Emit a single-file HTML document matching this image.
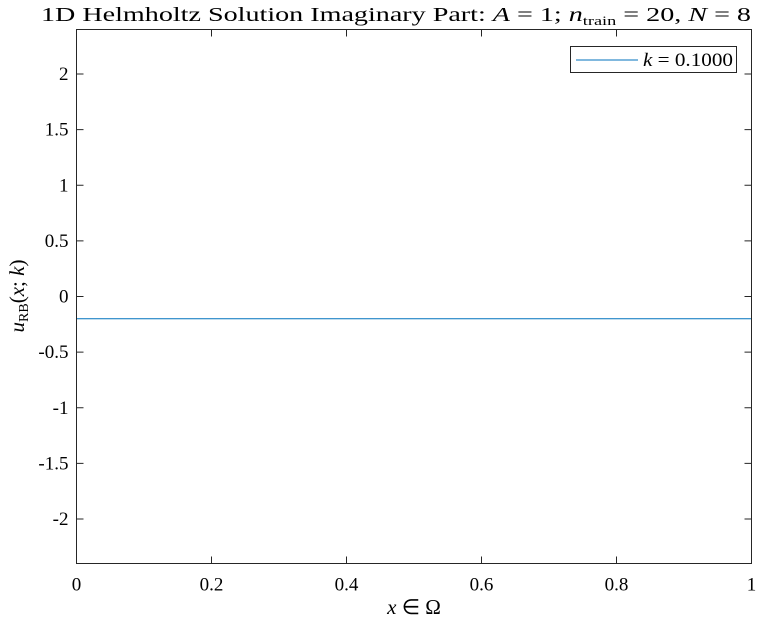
<!DOCTYPE html>
<html><head><meta charset="utf-8"><style>
body{margin:0;background:#fff;}
svg{font-family:"Liberation Serif",serif;}
</style></head><body>
<svg id="chart" width="760" height="622" viewBox="0 0 760 622" xmlns="http://www.w3.org/2000/svg">
<rect width="760" height="622" fill="#fff"/>
<text x="41" y="21" font-size="20" textLength="710" lengthAdjust="spacingAndGlyphs">1D Helmholtz Solution Imaginary Part: <tspan font-style="italic">A</tspan> = 1; <tspan font-style="italic">n</tspan><tspan font-size="13" dy="4">train</tspan><tspan dy="-4"> = 20, </tspan><tspan font-style="italic">N</tspan> = 8</text>
<g id="ticks"></g>
<g id="series"></g>
<rect x="76.5" y="29.5" width="675" height="534" fill="none" stroke="#262626" stroke-width="1"/>
<text x="414" y="614" font-size="21" text-anchor="middle"><tspan font-style="italic">x</tspan> ∈ Ω</text>
<text transform="translate(24,296) rotate(-90)" font-size="21" text-anchor="middle"><tspan font-style="italic">u</tspan><tspan font-size="14" dy="4">RB</tspan><tspan dy="-4">(</tspan><tspan font-style="italic">x</tspan>; <tspan font-style="italic">k</tspan>)</text>
<g>
<rect x="570.5" y="46.5" width="166" height="26" fill="#fff" stroke="#262626"/>
<line x1="576" y1="60" x2="638" y2="60" stroke="#0072bd" stroke-width="1"/>
<text x="643" y="66" font-size="19" textLength="90" lengthAdjust="spacingAndGlyphs"><tspan font-style="italic">k</tspan> = 0.1000</text>
</g>
</svg>
<script>
const xTicks=[0,0.2,0.4,0.6,0.8,1];
const xTickLabels=["0","0.2","0.4","0.6","0.8","1"];
const yTicks=[-2,-1.5,-1,-0.5,0,0.5,1,1.5,2];
const yTickLabels=["-2","-1.5","-1","-0.5","0","0.5","1","1.5","2"];
const xs=[0,0.1,0.2,0.3,0.4,0.5,0.6,0.7,0.8,0.9,1];
const ys=[-0.2,-0.2,-0.2,-0.2,-0.2,-0.2,-0.2,-0.2,-0.2,-0.2,-0.2];
const NS="http://www.w3.org/2000/svg";
const L=76.5,R=751.5,T=29.5,B=563.5,YMIN=-2.4,YMAX=2.4;
function sx(v){return L+(v-0)/(1-0)*(R-L);}
function sy(v){return B-(v-YMIN)/(YMAX-YMIN)*(B-T);}
const tg=document.getElementById('ticks');
xTicks.forEach((v,i)=>{
  const x=sx(v);
  const t1=document.createElementNS(NS,'path');
  t1.setAttribute('d',`M${x} ${B}V${B-7}M${x} ${T}V${T+7}`);
  t1.setAttribute('stroke','#262626');
  
  
  tg.appendChild(t1);
  const tx=document.createElementNS(NS,'text');
  tx.setAttribute('x',x);tx.setAttribute('y',B+27);
  tx.setAttribute('font-size','19');tx.setAttribute('text-anchor','middle');
  
  
  tx.textContent=xTickLabels[i];tg.appendChild(tx);
});
yTicks.forEach((v,i)=>{
  const y=sy(v);
  const t1=document.createElementNS(NS,'path');
  t1.setAttribute('d',`M${L} ${y}H${L+7}M${R} ${y}H${R-7}`);
  t1.setAttribute('stroke','#262626');
  
  
  tg.appendChild(t1);
  const tx=document.createElementNS(NS,'text');
  tx.setAttribute('x',L-8);tx.setAttribute('y',y+6);
  tx.setAttribute('font-size','19');tx.setAttribute('text-anchor','end');
  
  
  tx.textContent=yTickLabels[i];tg.appendChild(tx);
});
const p=document.createElementNS(NS,'polyline');
p.setAttribute('points',xs.map((v,i)=>sx(v)+','+sy(ys[i])).join(' '));
p.setAttribute('fill','none');p.setAttribute('stroke','#0072bd');p.setAttribute('stroke-width','1');


document.getElementById('series').appendChild(p);
</script>
</body></html>
